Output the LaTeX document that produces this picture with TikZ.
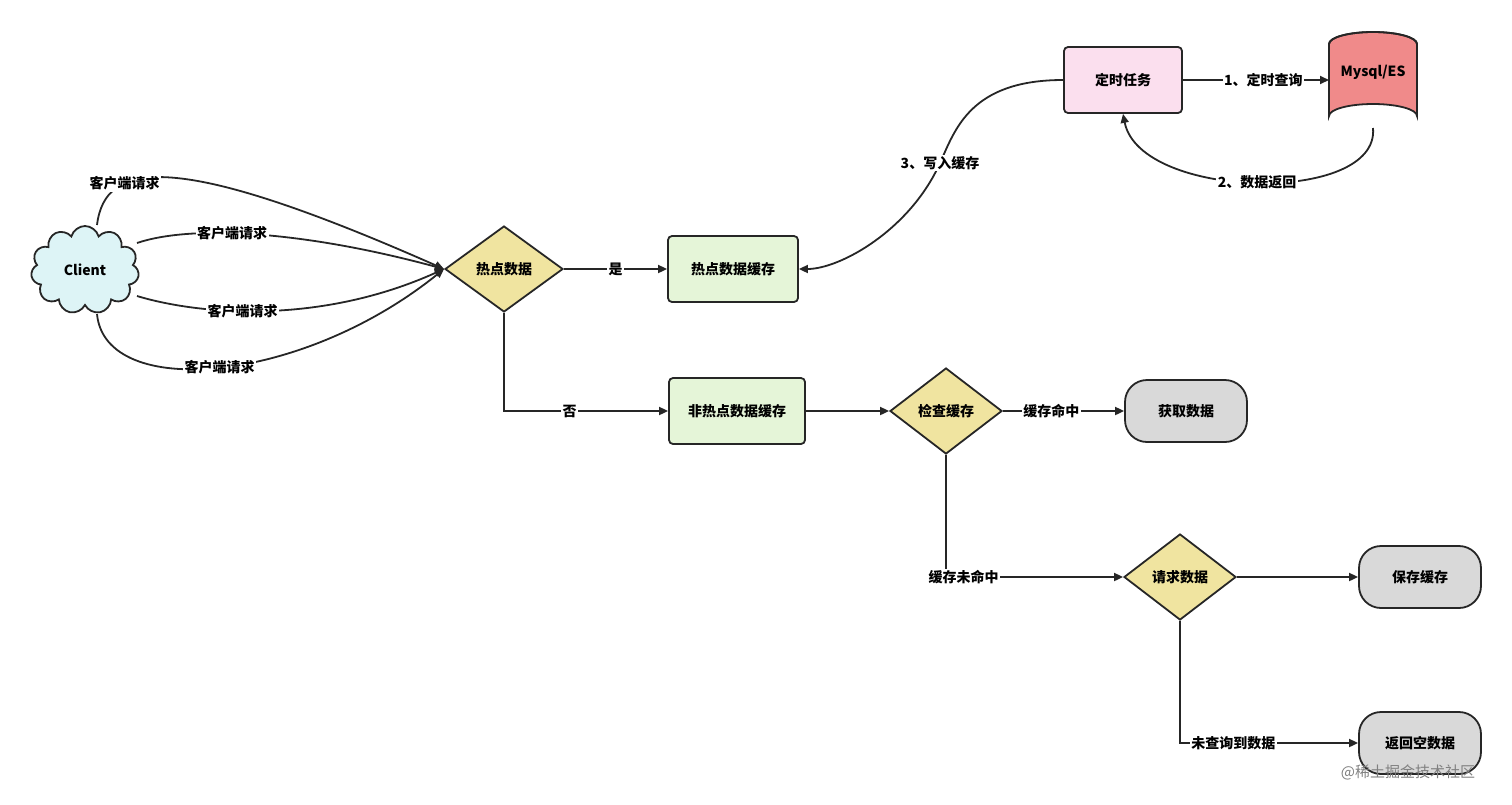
\documentclass[tikz,border=0pt]{standalone}
\usepackage{fontspec}
\setmainfont{Noto Sans CJK SC}
\usetikzlibrary{shapes.geometric,shapes.symbols,arrows.meta}
\begin{document}
\begin{tikzpicture}[x=1pt,y=-1pt,
  every node/.style={font=\fontsize{14}{16}\selectfont\bfseries},
  box/.style={draw=black!85,line width=1.8pt,rounded corners=4pt,minimum width=#1,minimum height=66pt,inner sep=0pt},
  term/.style={draw=black!85,line width=1.8pt,rounded corners=22pt,minimum width=122pt,minimum height=62pt,fill=gray!30,inner sep=0pt},
  dia/.style={draw=black!85,line width=1.8pt,diamond,aspect=1.35,minimum width=#1,minimum height=86pt,fill=dia,inner sep=0pt},
  con/.style={draw=black!85,line width=1.8pt,-{Triangle[length=9pt,width=8pt]}},
  lab/.style={fill=white,inner sep=1.5pt}]
\definecolor{dia}{HTML}{F0E4A0}
\definecolor{grn}{HTML}{E5F5D8}
\definecolor{pnk}{HTML}{FBDFEE}
\definecolor{red}{HTML}{F08A8A}
\definecolor{cyn}{HTML}{DDF4F6}
\useasboundingbox (0,0) rectangle (1512,804);
\node[cloud,cloud puffs=11,aspect=1.2,draw=black!85,line width=1.8pt,fill=cyn,minimum width=108pt,minimum height=88pt] (cl) at (85,270) {Client};
\node[dia=118pt] (hot) at (504,269) {热点数据};
\node[box=130pt,fill=grn] (hc) at (733,269) {热点数据缓存};
\node[box=118pt,fill=pnk] (job) at (1123,80) {定时任务};
\filldraw[fill=red,draw=black!85,line width=1.8pt] (1329,44) -- (1329,116) arc[start angle=180,end angle=360,x radius=44,y radius=12] -- (1417,44) arc[start angle=0,end angle=-180,x radius=44,y radius=12] -- cycle;
\draw[black!85,line width=1.8pt] (1329,44) arc[start angle=180,end angle=360,x radius=44,y radius=12];
\node[minimum width=88pt,minimum height=84pt,inner sep=0pt] (db) at (1373,86) {};
\node at (1373,72) {Mysql/ES};
\node[box=136pt,fill=grn] (nhc) at (737,411) {非热点数据缓存};
\node[dia=112pt] (chk) at (946,411) {检查缓存};
\node[term] (get) at (1186,411) {获取数据};
\node[dia=112pt] (req) at (1180,577) {请求数据};
\node[term] (save) at (1420,577) {保存缓存};
\node[term] (empty) at (1420,743) {返回空数据};
\coordinate (hl) at (444,269);
\draw[con] (97,225) .. controls (105,160) and (175,150) .. node[pos=0.3,lab]{客户端请求} (hl);
\draw[con] (137,243) .. controls (190,225) and (300,230) .. node[pos=0.42,lab]{客户端请求} (hl);
\draw[con] (137,296) .. controls (200,315) and (320,325) .. node[pos=0.42,lab]{客户端请求} (hl);
\draw[con] (97,314) .. controls (105,400) and (300,385) .. node[pos=0.5,lab]{客户端请求} (hl);
\draw[con] (hot.east) -- node[lab]{是} (hc.west);
\draw[con] (hot.south) |- node[pos=0.7,lab]{否} (nhc.west);
\draw[con] (nhc.east) -- (chk.west);
\draw[con] (chk.east) -- node[pos=0.4,lab]{缓存命中} (get.west);
\draw[con] (chk.south) |- node[pos=0.55,lab]{缓存未命中} (req.west);
\draw[con] (req.east) -- (save.west);
\draw[con] (req.south) |- node[pos=0.65,lab]{未查询到数据} (empty.west);
\draw[con] (job.east) -- node[pos=0.55,lab]{1、定时查询} (1329,80);
\draw[con] (1373,128) .. controls (1380,205) and (1140,200) .. node[pos=0.5,lab]{2、数据返回} (job.south);
\draw[con] (job.west) .. controls (970,80) and (955,130) .. (940,163) node[lab]{3、写入缓存} .. controls (910,230) and (840,269) .. (hc.east);
\node[text=gray,font=\fontsize{15}{17}\selectfont] (wm) at (1408,772) {@稀土掘金技术社区};
\end{tikzpicture}
\end{document}
